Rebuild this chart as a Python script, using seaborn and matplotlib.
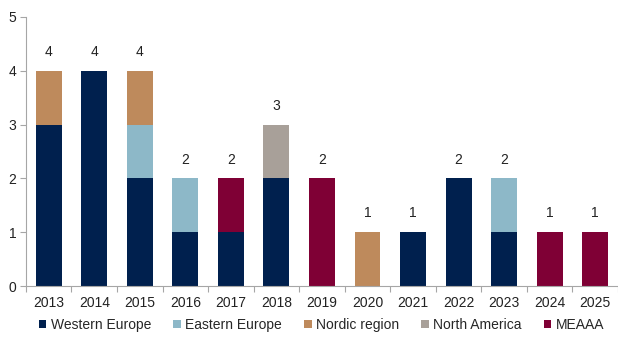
import numpy as np
import pandas as pd
import matplotlib
matplotlib.use("Agg")
import matplotlib.pyplot as plt
from matplotlib.patches import Patch
import seaborn as sns

years = [2013, 2014, 2015, 2016, 2017, 2018, 2019, 2020, 2021, 2022, 2023, 2024, 2025]
regions = ["Western Europe", "Eastern Europe", "Nordic region", "North America", "MEAAA"]
western_europe = [3, 4, 2, 1, 1, 2, 0, 0, 1, 2, 1, 0, 0]
eastern_europe = [0, 0, 1, 1, 0, 0, 0, 0, 0, 0, 1, 0, 0]
nordic_region  = [1, 0, 1, 0, 0, 0, 0, 1, 0, 0, 0, 0, 0]
north_america  = [0, 0, 0, 0, 0, 1, 0, 0, 0, 0, 0, 0, 0]
meaaa          = [0, 0, 0, 0, 1, 0, 2, 0, 0, 0, 0, 1, 1]
colors = ["#00204E", "#8DB8C8", "#BE8A5C", "#A8A099", "#7F0035"]

series = [western_europe, eastern_europe, nordic_region, north_america, meaaa]
df = pd.DataFrame({
    "year": np.repeat([years], len(regions), axis=0).ravel(),
    "region": np.repeat(regions, len(years)),
    "count": np.concatenate(series),
})
totals = df.groupby("year")["count"].sum()

sns.set_theme(style="white")
plt.rcParams["font.family"] = ["Liberation Sans", "DejaVu Sans"]

fig, ax = plt.subplots(figsize=(6.18, 3.37), dpi=100)
fig.subplots_adjust(left=0.042, right=1.0, top=0.95, bottom=0.151)

# Stack layers bottom-up in region order
bottom = np.zeros(len(years))
for name, vals, col in zip(regions, series, colors):
    sub = df[df["region"] == name]
    n_before = len(ax.patches)
    sns.histplot(data=sub, x="year", weights="count", discrete=True, shrink=0.57,
                 color=col, alpha=1, linewidth=0, ax=ax, legend=False, stat="count")
    # lift this layer onto the running total
    for p in ax.patches[n_before:]:
        idx = int(round(p.get_x() + p.get_width() / 2)) - years[0]
        p.set_y(bottom[idx])
    bottom += np.array(vals)

for yr in years:
    ax.text(yr, totals[yr] + 0.35, f"{totals[yr]:g}", ha="center", va="center",
            fontsize=10, color="#222222")

ax.set_xlim(years[0] - 0.5, years[-1] + 0.5)
ax.set_ylim(0, 5)
ax.set_yticks(range(0, 6))
ax.set_xticks(years)
ax.set_xticks(np.arange(years[0] - 0.5, years[-1] + 0.6, 1), minor=True)
ax.set_xlabel("")
ax.set_ylabel("")
ax.tick_params(axis="x", which="major", length=0, labelsize=10, pad=7, colors="#222222")
ax.tick_params(axis="x", which="minor", length=4, width=0.8, color="#A6A6A6", direction="out")
ax.tick_params(axis="y", which="major", length=4, width=0.8, color="#A6A6A6",
               direction="out", labelsize=10, labelcolor="#222222", pad=3)
ax.xaxis.set_ticks_position("bottom")
ax.yaxis.set_ticks_position("left")
for s in ["top", "right"]:
    ax.spines[s].set_visible(False)
for s in ["left", "bottom"]:
    ax.spines[s].set_color("#A6A6A6")
    ax.spines[s].set_linewidth(0.8)

handles = [Patch(facecolor=c, edgecolor="none") for c in colors]
fig.legend(handles, regions, loc="center", bbox_to_anchor=(0.52, 0.035), ncol=5,
           frameon=False, fontsize=10, handlelength=0.55, handleheight=0.55,
           handletextpad=0.3, columnspacing=1.6)

fig.savefig("out.png", dpi=100)
